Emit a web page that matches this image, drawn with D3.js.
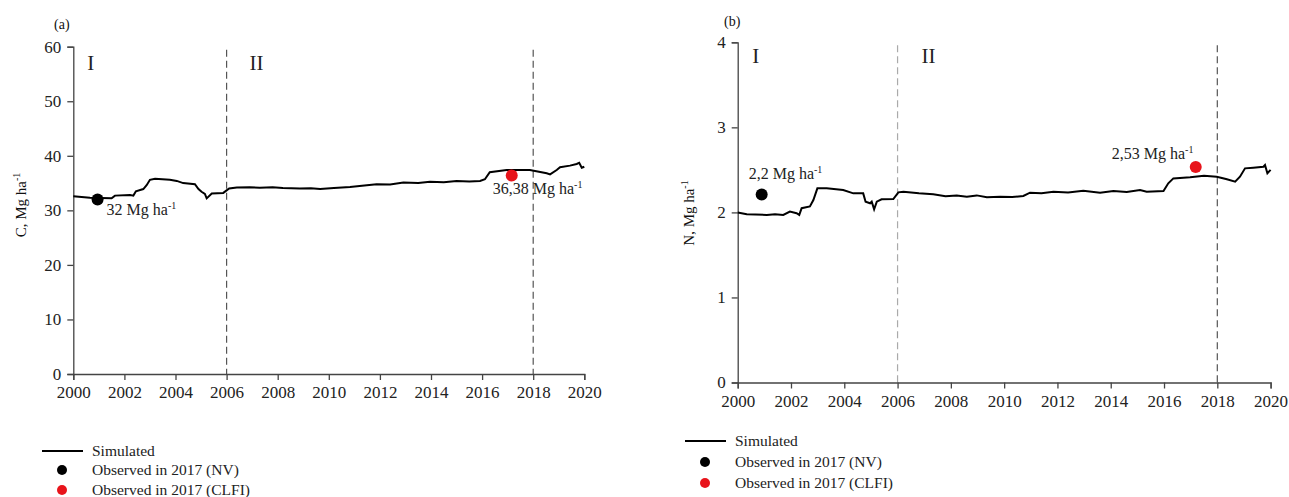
<!DOCTYPE html>
<html><head><meta charset="utf-8">
<script src="https://cdn.jsdelivr.net/npm/d3@7"></script>
<style>body{margin:0;background:#fff} svg{font-family:"Liberation Serif","Times New Roman",serif;display:block}
svg text{font-family:"Liberation Serif","Times New Roman",serif !important}</style>
</head><body><svg id="c" width="1289" height="497"></svg>
<script>
// ---- data ----
const xTicks = [2000,2002,2004,2006,2008,2010,2012,2014,2016,2018,2020];
const yTicksC = [0,10,20,30,40,50,60];
const yTicksN = [0,1,2,3,4];
const periodBreaks = [2006, 2018];
const periodLabels = ["I", "II"];
const periodLabelYears = [2000.55, 2006.9];

const simYearsC = [2000.0,2000.65,2001.5,2001.63,2002.22,2002.35,2002.45,2002.74,2002.87,2003.0,2003.2,2003.78,2004.05,2004.3,2004.76,2004.9,2005.02,2005.15,2005.22,2005.42,2005.87,2006.1,2006.4,2006.9,2007.3,2007.8,2008.2,2008.87,2009.3,2009.66,2010.2,2010.83,2011.3,2011.87,2012.4,2012.92,2013.5,2013.96,2014.5,2015.0,2015.5,2015.92,2016.11,2016.3,2016.96,2017.87,2018.53,2018.66,2018.92,2019.05,2019.44,2019.7,2019.8,2019.9,2020.0];
const simC = [32.6,32.3,32.2,32.7,32.8,32.7,33.5,33.9,34.6,35.6,35.8,35.6,35.4,35.0,34.8,33.9,33.4,33.0,32.2,33.1,33.2,34.0,34.2,34.25,34.15,34.25,34.1,34.0,34.05,33.9,34.1,34.3,34.5,34.8,34.75,35.1,35.0,35.25,35.15,35.4,35.3,35.4,35.7,37.0,37.4,37.4,36.8,36.6,37.4,37.9,38.2,38.5,38.7,37.8,38.0];

const simYearsN = [2000.0,2000.34,2001.09,2001.4,2001.71,2001.96,2002.21,2002.31,2002.4,2002.71,2002.84,2002.99,2003.34,2003.96,2004.34,2004.71,2004.8,2004.97,2005.03,2005.12,2005.22,2005.4,2005.84,2006.03,2006.22,2006.8,2007.34,2007.8,2008.22,2008.6,2008.97,2009.35,2009.85,2010.3,2010.72,2010.97,2011.4,2011.85,2012.4,2012.97,2013.6,2014.1,2014.6,2015.1,2015.35,2015.98,2016.16,2016.35,2016.98,2017.5,2017.98,2018.36,2018.67,2018.85,2019.04,2019.35,2019.73,2019.79,2019.88,2020.0];
const simN = [2.0,1.978,1.97,1.978,1.97,2.01,1.99,1.97,2.05,2.07,2.146,2.283,2.283,2.263,2.224,2.224,2.126,2.107,2.126,2.036,2.126,2.154,2.157,2.236,2.243,2.225,2.213,2.19,2.2,2.185,2.2,2.177,2.185,2.18,2.193,2.232,2.225,2.243,2.235,2.255,2.232,2.252,2.24,2.263,2.243,2.252,2.342,2.40,2.413,2.43,2.42,2.39,2.361,2.42,2.518,2.526,2.537,2.557,2.46,2.50];

const obsYearsC = [2000.95, 2017.16];
const obsC = [32.0, 36.4];
const obsLabelsC = ["32", "36,38"];
const obsYearsN = [2000.9, 2017.19];
const obsN = [2.21, 2.535];
const obsLabelsN = ["2,2", "2,53"];
const obsColors = ["#000000", "#e8141b"];
const legendLabels = ["Simulated", "Observed in 2017 (NV)", "Observed in 2017 (CLFI)"];

// ---- drawing ----
const svg = d3.select("#c");

function supText(sel, main, sup, supSize, dy) {
  sel.append("tspan").text(main);
  sel.append("tspan").text(sup).attr("font-size", supSize).attr("dy", dy);
}

function panel(cfg) {
  const g = svg.append("g");
  const x = d3.scaleLinear().domain([2000, 2020]).range([cfg.x0, cfg.x1]);
  const y = d3.scaleLinear().domain([0, cfg.yMax]).range([cfg.y0, cfg.y1]);

  periodBreaks.forEach((b, i) => {
    g.append("line")
      .attr("x1", x(b)).attr("x2", x(b))
      .attr("y1", y(cfg.yMax) + 3).attr("y2", y(0))
      .attr("stroke", cfg.dashColors[i]).attr("stroke-width", 1.2)
      .attr("stroke-dasharray", "7,4");
  });

  const xa = g.append("g").attr("transform", `translate(0,${cfg.y0})`)
    .call(d3.axisBottom(x).tickValues(xTicks).tickFormat(d3.format("d")).tickSize(6).tickPadding(6));
  const ya = g.append("g").attr("transform", `translate(${cfg.x0},0)`)
    .call(d3.axisLeft(y).tickValues(cfg.yTicks).tickFormat(d3.format("d")).tickSize(6).tickPadding(6));
  [xa, ya].forEach(a => {
    a.attr("font-family", null).attr("font-size", null);
    a.select(".domain").attr("stroke", "#444").attr("stroke-width", 1.3);
    a.selectAll(".tick line").attr("stroke", "#444").attr("stroke-width", 1.3);
    a.selectAll(".tick text").attr("fill", "#222").style("font-size", "17px");
  });

  const pts = cfg.years.map((yr, i) => [yr, cfg.vals[i]]);
  g.append("path").datum(pts)
    .attr("d", d3.line().x(d => x(d[0])).y(d => y(d[1])))
    .attr("fill", "none").attr("stroke", "#000").attr("stroke-width", 2);

  cfg.obsYears.forEach((yr, i) => {
    g.append("circle").attr("cx", x(yr)).attr("cy", y(cfg.obsVals[i]))
      .attr("r", 6).attr("fill", obsColors[i]);
    const t = g.append("text")
      .attr("x", x(yr) + cfg.lblDx[i]).attr("y", y(cfg.obsVals[i]) + cfg.lblDy[i])
      .attr("font-size", 16).attr("fill", "#222");
    supText(t, cfg.obsLabels[i] + " Mg ha", "-1", 10, -6);
  });

  periodLabels.forEach((p, i) => {
    g.append("text").attr("x", x(periodLabelYears[i])).attr("y", cfg.romanY)
      .attr("font-size", 21).attr("fill", "#222").text(p);
  });

  g.append("text").attr("x", cfg.tagX).attr("y", cfg.tagY)
    .attr("font-size", 14).attr("fill", "#111").text(cfg.tag);

  const yt = g.append("text")
    .attr("transform", `translate(${cfg.titleX},${cfg.titleY}) rotate(-90)`)
    .attr("text-anchor", "middle").attr("font-size", 15).attr("fill", "#111");
  supText(yt, cfg.yName + ", Mg ha", "-1", 10, -6);

  const L = cfg.legend;
  g.append("line").attr("x1", L.x).attr("x2", L.x + 41)
    .attr("y1", L.ys[0]).attr("y2", L.ys[0]).attr("stroke", "#000").attr("stroke-width", 2);
  [1, 2].forEach(k => {
    g.append("circle").attr("cx", L.x + 20).attr("cy", L.ys[k]).attr("r", 5).attr("fill", obsColors[k - 1]);
  });
  legendLabels.forEach((lab, k) => {
    g.append("text").attr("x", L.x + 50).attr("y", L.ys[k] + 5)
      .attr("font-size", 15.5).attr("fill", "#222").text(lab);
  });
}

panel({
  x0: 73.3, x1: 584.3, y0: 374, y1: 46.7, yMax: 60, yTicks: yTicksC,
  years: simYearsC, vals: simC,
  obsYears: obsYearsC, obsVals: obsC, obsLabels: obsLabelsC,
  lblDx: [9, -19], lblDy: [16, 19],
  dashColors: ["#555", "#555"],
  romanY: 70, tag: "(a)", tagX: 54, tagY: 29,
  yName: "C", titleX: 26, titleY: 205,
  legend: { x: 42, ys: [451, 470, 490] }
});

panel({
  x0: 737.7, x1: 1270.6, y0: 382.5, y1: 42.3, yMax: 4, yTicks: yTicksN,
  years: simYearsN, vals: simN,
  obsYears: obsYearsN, obsVals: obsN, obsLabels: obsLabelsN,
  lblDx: [-13, -84], lblDy: [-16, -8],
  dashColors: ["#aaa", "#555"],
  romanY: 63, tag: "(b)", tagX: 724, tagY: 26,
  yName: "N", titleX: 694, titleY: 213,
  legend: { x: 685, ys: [441, 462, 483] }
});
</script></body></html>
